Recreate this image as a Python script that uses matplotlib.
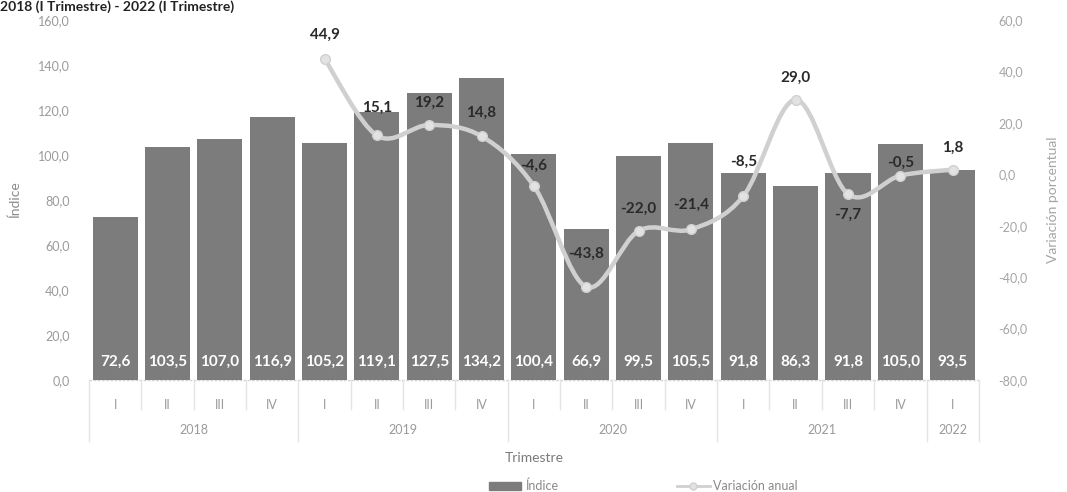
import numpy as np
import matplotlib
matplotlib.use("Agg")
import matplotlib.pyplot as plt
from matplotlib.path import Path
from matplotlib.patches import PathPatch, Patch
from matplotlib.lines import Line2D
from matplotlib.ticker import FuncFormatter

plt.rcParams['font.family'] = ['Lato', 'DejaVu Sans']

# data
trimestres = ["I", "II", "III", "IV", "I", "II", "III", "IV", "I", "II", "III", "IV",
              "I", "II", "III", "IV", "I"]
anios = ["2018", "2019", "2020", "2021", "2022"]
trim_por_anio = [4, 4, 4, 4, 1]
indice = [72.6, 103.5, 107.0, 116.9, 105.2, 119.1, 127.5, 134.2, 100.4, 66.9,
          99.5, 105.5, 91.8, 86.3, 91.8, 105.0, 93.5]
# variacion anual desde 2019 I
var_inicio = 4
variacion = [44.9, 15.1, 19.2, 14.8, -4.6, -43.8, -22.0, -21.4, -8.5, 29.0,
             -7.7, -0.5, 1.8]
# offset vertical de etiquetas (pt)
var_offset = [17, 20, 16, 17, 15, 24, 16, 18, 25, 16, -15, 9, 16]

bar_col = "#7c7c7c"
line_col = "#d0d0d0"
tick_col = "#9a9a9a"

fig = plt.figure(figsize=(10.67, 4.92), dpi=100)
ax = fig.add_axes([0.0834, 0.2276, 0.834, 0.7317])
ax2 = ax.twinx()

x = np.arange(len(indice))
ax.bar(x, indice, width=0.86, color=bar_col, zorder=2)
for xi, v in zip(x, indice):
    ax.annotate(f"{v:.1f}".replace(".", ","), (xi, 0), xytext=(0, 13),
                textcoords="offset points", ha="center", va="center",
                color="white", fontsize=11, fontweight="bold", zorder=3)

ax.set_xlim(-0.5, len(indice) - 0.5)
ax.set_ylim(0, 160)
ax.set_yticks(np.arange(0, 161, 20))
ax2.set_ylim(-80, 60)
ax2.set_yticks(np.arange(-80, 61, 20))
fmt = FuncFormatter(lambda v, p: f"{v:.1f}".replace(".", ","))
ax.yaxis.set_major_formatter(fmt)
ax2.yaxis.set_major_formatter(fmt)

for a in (ax, ax2):
    for s in a.spines.values():
        s.set_visible(False)
ax.tick_params(axis="y", length=0, labelsize=9, labelcolor=tick_col, pad=14)
ax2.tick_params(axis="y", length=0, labelsize=9, labelcolor="#a5a5a5", pad=14)
ax.set_xticks(x)
ax.set_xticklabels(trimestres)
ax.tick_params(axis="x", length=0, labelsize=9, labelcolor=tick_col, pad=14)

ax.set_ylabel("Índice", color="#8a8a8a", fontsize=10, labelpad=12)
ax2.set_ylabel("Variación porcentual", color="#a5a5a5", fontsize=10, labelpad=14)

# linea suavizada (curva de Bezier por los puntos)
vx = np.arange(var_inicio, var_inicio + len(variacion)).astype(float)
pts = np.column_stack([vx, variacion])
verts = [pts[0]]
codes = [Path.MOVETO]
n = len(pts)
for i in range(n - 1):
    p0 = pts[i - 1] if i > 0 else pts[i]
    p1 = pts[i]
    p2 = pts[i + 1]
    p3 = pts[i + 2] if i + 2 < n else pts[i + 1]
    verts += [p1 + (p2 - p0) / 6, p2 - (p3 - p1) / 6, p2]
    codes += [Path.CURVE4] * 3
ax2.add_patch(PathPatch(Path(verts, codes), facecolor="none", edgecolor=line_col,
                        lw=3.2, zorder=4))
ax2.plot(vx, variacion, ls="none", marker="o", ms=7, mfc="#e2e2e2",
         mec=line_col, zorder=5)
for xi, v, off in zip(vx, variacion, var_offset):
    ax2.annotate(f"{v:.1f}".replace(".", ","), (xi, v), xytext=(0, off),
                 textcoords="offset points", ha="center", va="center",
                 color="#2a2a2a", fontsize=11, fontweight="bold", zorder=6)

# eje de categorias de dos niveles
trans = ax.get_xaxis_transform()
ax.plot([-0.5, len(indice) - 0.5], [0, 0], color="#d4d4d4", lw=1,
        ls=(0, (2, 1)), transform=trans, clip_on=False, zorder=1)
bounds = np.cumsum([0] + trim_por_anio) - 0.5
for b in np.arange(-0.5, len(indice), 1.0):
    deep = b in bounds
    ax.plot([b, b], [0, -0.17 if deep else -0.08], color="#e4e4e4", lw=1,
            transform=trans, clip_on=False)
for anio, lo, hi in zip(anios, bounds[:-1], bounds[1:]):
    ax.text((lo + hi) / 2, -0.138, anio, transform=trans, ha="center",
            va="center", fontsize=9, color=tick_col)

fig.text(0.5005, 0.069, "Trimestre", ha="center", va="center", fontsize=10,
         color="#7a7a7a")

handles = [Patch(color=bar_col),
           Line2D([], [], color=line_col, lw=2, marker="o", ms=5,
                  mfc="#e2e2e2", mec=line_col)]
fig.legend(handles, ["Índice", "Variación anual"], loc="center",
           bbox_to_anchor=(0.603, 0.012), ncol=2, frameon=False, fontsize=9,
           labelcolor="#8a8a8a", columnspacing=9.5, handlelength=2.6,
           handletextpad=0.3)

fig.text(0.0, 0.999, "2018 (I Trimestre) - 2022 (I Trimestre)", ha="left",
         va="top", fontsize=10, fontweight="bold", color="#222222")

fig.savefig("out.png", dpi=100)
